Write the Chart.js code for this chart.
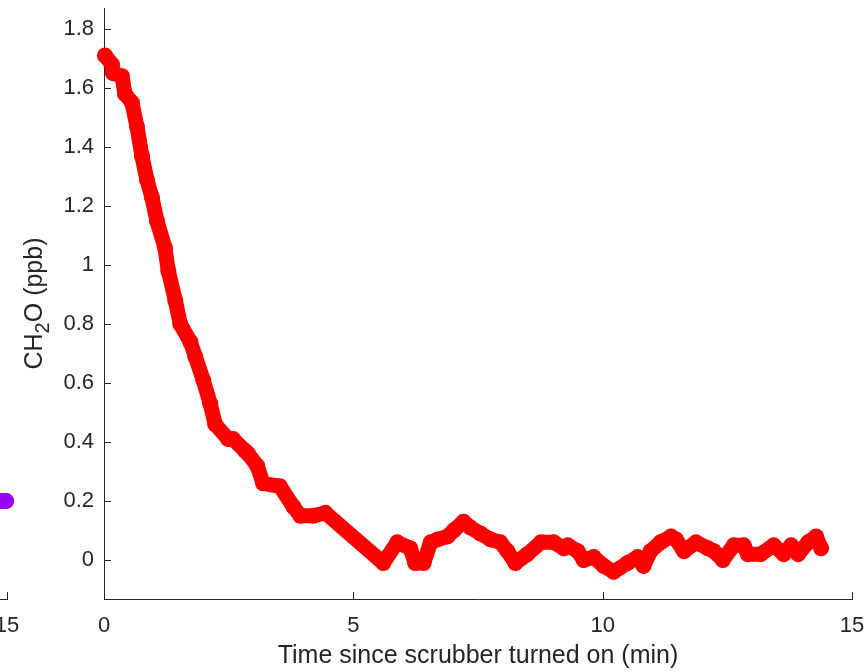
<!DOCTYPE html>
<html lang="en">
<head>
    <meta charset="UTF-8">
    <title>CH2O after scrubber</title>
    <script src="https://cdn.jsdelivr.net/npm/chart.js"></script>
    <style>
        body {
            margin: 0;
            background: #fff;
            overflow: hidden;
        }
        #wrap {
            position: relative;
            width: 866px;
            height: 672px;
            overflow: hidden;
        }
        canvas {
            position: absolute;
            top: 0;
        }
        #mainChart { left: 0; }
        #leftChart { left: -845px; }
    </style>
</head>
<body>
    <div id="wrap">
        <canvas id="leftChart" width="866" height="672"></canvas>
        <canvas id="mainChart" width="866" height="672"></canvas>
    </div>

    <script>
        // time since scrubber on (min) and CH2O (ppb)
        const timeMin = [0.02, 0.16, 0.18, 0.36, 0.42, 0.56, 0.66, 0.76, 0.86, 0.96,
            1.06, 1.22, 1.29, 1.43, 1.53, 1.73, 1.83, 1.99, 2.13, 2.23,
            2.49, 2.59, 2.83, 2.89, 3.07, 3.19, 3.53, 3.80, 3.94, 4.20,
            4.44, 5.60, 5.88, 6.14, 6.24, 6.41, 6.55, 6.69, 6.89, 7.01,
            7.21, 7.35, 7.55, 7.75, 7.95, 8.09, 8.25, 8.49, 8.76, 9.02,
            9.22, 9.30, 9.50, 9.62, 9.82, 10.02, 10.22, 10.50, 10.70, 10.82,
            10.96, 11.16, 11.37, 11.47, 11.63, 11.87, 12.11, 12.23, 12.41, 12.63,
            12.83, 12.91, 13.17, 13.43, 13.63, 13.78, 13.92, 14.12, 14.28, 14.38];
        const ch2oPpb = [1.71, 1.68, 1.65, 1.64, 1.58, 1.55, 1.47, 1.37, 1.29, 1.23,
            1.15, 1.06, 0.98, 0.88, 0.80, 0.74, 0.69, 0.61, 0.53, 0.46,
            0.41, 0.41, 0.37, 0.36, 0.32, 0.26, 0.25, 0.18, 0.15, 0.15,
            0.16, -0.01, 0.06, 0.04, -0.01, -0.01, 0.06, 0.07, 0.08, 0.10,
            0.13, 0.11, 0.09, 0.07, 0.06, 0.03, -0.01, 0.02, 0.06, 0.06,
            0.04, 0.05, 0.03, 0.00, 0.01, -0.02, -0.04, -0.01, 0.01, -0.02,
            0.03, 0.06, 0.08, 0.07, 0.03, 0.06, 0.04, 0.03, 0.00, 0.05,
            0.05, 0.02, 0.02, 0.05, 0.02, 0.05, 0.02, 0.06, 0.08, 0.04];

        // the tail of the neighbouring panel that shows at the left edge
        const leftTimeMin = [14.88, 14.98];
        const leftCh2oPpb = [0.20, 0.20];

        const xTicks = [0, 5, 10, 15];
        const yTicks = [0, 0.2, 0.4, 0.6, 0.8, 1, 1.2, 1.4, 1.6, 1.8];
        const xTitle = 'Time since scrubber turned on (min)';
        const yTitleParts = ['CH', '2', 'O (ppb)'];

        const axisColor = '#262626';
        const fontFamily = '"Liberation Sans", Arial, Helvetica, sans-serif';

        function toPoints(xs, ys) {
            return xs.map((x, i) => ({ x: x, y: ys[i] }));
        }

        // MATLAB style ticks pointing into the plot
        const inwardTicks = {
            id: 'inwardTicks',
            afterDatasetsDraw(chart) {
                const ctx = chart.ctx;
                const area = chart.chartArea;
                const xs = chart.scales.x;
                const ys = chart.scales.y;
                ctx.save();
                ctx.strokeStyle = axisColor;
                ctx.lineWidth = 1;
                ctx.beginPath();
                xTicks.forEach(v => {
                    const px = Math.round(xs.getPixelForValue(v)) + 0.5;
                    ctx.moveTo(px, area.bottom);
                    ctx.lineTo(px, area.bottom - 7);
                });
                if (ys.options.display) {
                    yTicks.forEach(v => {
                        const py = Math.round(ys.getPixelForValue(v)) + 0.5;
                        ctx.moveTo(area.left, py);
                        ctx.lineTo(area.left + 7, py);
                    });
                }
                ctx.stroke();
                ctx.restore();
            }
        };

        // y title with a lowered "2"
        const yTitle = {
            id: 'yTitle',
            afterDraw(chart) {
                const ctx = chart.ctx;
                const area = chart.chartArea;
                const big = '25px ' + fontFamily;
                const small = '20px ' + fontFamily;
                ctx.save();
                ctx.fillStyle = axisColor;
                ctx.textBaseline = 'alphabetic';
                ctx.textAlign = 'left';
                ctx.font = big;
                const w0 = ctx.measureText(yTitleParts[0]).width;
                const w2 = ctx.measureText(yTitleParts[2]).width;
                ctx.font = small;
                const w1 = ctx.measureText(yTitleParts[1]).width;
                const total = w0 + w1 + w2;
                ctx.translate(42, (area.top + area.bottom) / 2);
                ctx.rotate(-Math.PI / 2);
                let x = -total / 2;
                ctx.font = big;
                ctx.fillText(yTitleParts[0], x, 0);
                x += w0;
                ctx.font = small;
                ctx.fillText(yTitleParts[1], x, 7);
                x += w1;
                ctx.font = big;
                ctx.fillText(yTitleParts[2], x, 0);
                ctx.restore();
            }
        };

        function xScale(withTitle) {
            return {
                type: 'linear',
                min: 0,
                max: 15,
                afterBuildTicks: s => { s.ticks = xTicks.map(v => ({ value: v })); },
                afterFit: s => {
                    s.height = 73;
                    s.paddingLeft = 0;
                    s.paddingRight = 0;
                },
                grid: { drawOnChartArea: false, drawTicks: false, color: 'rgba(0,0,0,0)' },
                border: { display: true, color: axisColor, width: 1 },
                ticks: {
                    color: axisColor,
                    padding: 14,
                    maxRotation: 0,
                    font: { family: fontFamily, size: 22 }
                },
                title: {
                    display: withTitle,
                    text: xTitle,
                    color: axisColor,
                    padding: { top: 0, bottom: 1 },
                    font: { family: fontFamily, size: 25 }
                }
            };
        }

        function yScale(shown) {
            return {
                type: 'linear',
                display: shown,
                min: -0.132,
                max: 1.871,
                afterBuildTicks: s => { s.ticks = yTicks.map(v => ({ value: v })); },
                afterFit: s => {
                    s.width = 104;
                    s.paddingTop = 0;
                    s.paddingBottom = 0;
                },
                grid: { drawOnChartArea: false, drawTicks: false, color: 'rgba(0,0,0,0)' },
                border: { display: true, color: axisColor, width: 1 },
                ticks: {
                    color: axisColor,
                    padding: 10,
                    font: { family: fontFamily, size: 22 },
                    callback: v => String(Math.round(v * 10) / 10)
                }
            };
        }

        function lineSet(xs, ys, colour) {
            return {
                data: toPoints(xs, ys),
                borderColor: colour,
                backgroundColor: colour,
                pointBackgroundColor: colour,
                pointBorderWidth: 0,
                pointRadius: 8,
                borderWidth: 15,
                borderJoinStyle: 'round',
                borderCapStyle: 'round',
                tension: 0,
                clip: false
            };
        }

        const commonOptions = {
            responsive: false,
            animation: false,
            devicePixelRatio: 1,
            plugins: { legend: { display: false }, tooltip: { enabled: false } }
        };

        new Chart(document.getElementById('mainChart').getContext('2d'), {
            type: 'line',
            data: { datasets: [lineSet(timeMin, ch2oPpb, '#ff0000')] },
            options: Object.assign({}, commonOptions, {
                layout: { padding: { left: 0, right: 14, top: 8, bottom: 0 } },
                scales: { x: xScale(true), y: yScale(true) }
            }),
            plugins: [inwardTicks, yTitle]
        });

        new Chart(document.getElementById('leftChart').getContext('2d'), {
            type: 'line',
            data: { datasets: [lineSet(leftTimeMin, leftCh2oPpb, '#9900ff')] },
            options: Object.assign({}, commonOptions, {
                layout: { padding: { left: 104, right: 14, top: 8, bottom: 0 } },
                scales: { x: xScale(false), y: yScale(false) }
            }),
            plugins: [inwardTicks]
        });
    </script>
</body>
</html>
